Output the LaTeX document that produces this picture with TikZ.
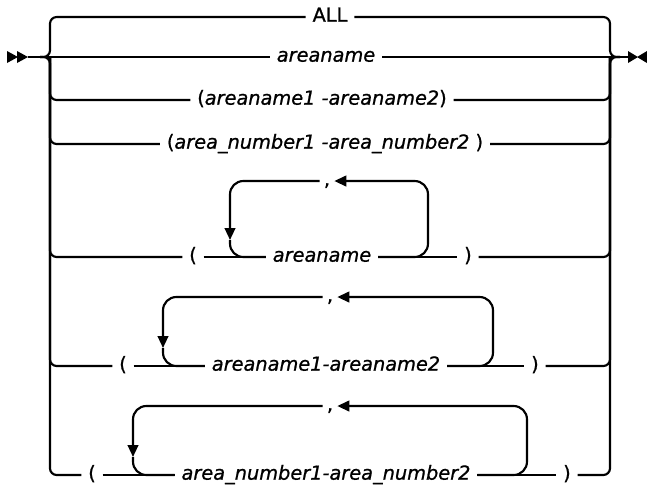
\documentclass[tikz,border=0pt]{standalone}
\usepackage{fontspec}
\setmainfont{DejaVu Sans}
\usetikzlibrary{arrows.meta}
\tikzset{
  rail/.style={line width=1.6pt,rounded corners=5pt},
  loopback/.style={rail,rounded corners=10pt,-{Triangle[length=9pt,width=8pt]}},
  kw/.style={font=\fontsize{14.5}{17}\selectfont\addfontfeature{FakeBold=0.9},
    inner xsep=5pt,inner ysep=0pt,text height=.95em,text depth=.25em},
  var/.style={kw,font=\fontsize{14.5}{17}\selectfont\itshape\addfontfeature{FakeBold=0.9}},
  sep/.style={kw,inner xsep=3pt},
}
\begin{document}
\begin{tikzpicture}[x=.75pt,y=-.75pt]
  \useasboundingbox (0,0) rectangle (647,487);
  % rails and junctions
  \coordinate (start) at (28,57);
  \coordinate (lj) at (40,57);
  \coordinate (rj) at (620,57);
  \coordinate (stop) at (628,57);
  \coordinate (lrail) at (50,0);
  \coordinate (rrail) at (610,0);
  \fill (7,51) -- (18,57) -- (7,63) -- cycle (17,51) -- (28,57) -- (17,63) -- cycle;
  \fill (628,51) -- (638,57) -- (628,63) -- cycle (647,51) -- (637,57) -- (647,63) -- cycle;
  % choices
  \node[kw] (all) at (330,17) {ALL};
  \node[var] (an2) at (326,57) {areaname};
  \node[kw] (an3) at (322,100) {(\textit{areaname1 -areaname2})};
  \node[kw] (an4) at (325,144) {(\textit{area\_number1 -area\_number2} )};
  \node[kw] (lp5) at (193,257) {(};
  \node[var] (an5) at (322,257) {areaname};
  \node[kw] (rp5) at (468,257) {)};
  \node[sep] (c5) at (327,181) {,};
  \node[kw] (lp6) at (123,366) {(};
  \node[var] (an6) at (326,366) {areaname1-areaname2};
  \node[kw] (rp6) at (535,366) {)};
  \node[sep] (c6) at (330,297) {,};
  \node[kw] (lp7) at (92,475) {(};
  \node[var] (an7) at (326,475) {area\_number1-area\_number2};
  \node[kw] (rp7) at (567,475) {)};
  \node[sep] (c7) at (330,406) {,};
  % main line
  \draw[rail] (start) -- (an2.west);
  \draw[rail] (an2.east) -- (stop);
  \draw[rail] (lj) -| (lrail |- all) -- (all.west);
  \draw[rail] (all.east) -| (rrail |- rj) -- (rj);
  \draw[rail] (lj) -| (lrail |- lp7) -- (lp7.west);
  \draw[rail] (rp7.east) -| (rrail |- rj) -- (rj);
  \foreach \n in {an3,an4,lp5,lp6} {
    \draw[rail] (lrail |- lj) |- (\n.west);
  }
  \foreach \n in {an3,an4,rp5,rp6} {
    \draw[rail] (\n.east) -| (rrail |- rj);
  }
  % repeat loops
  \foreach \r/\a/\b/\t in {5/230/428/240,6/163/493/348,7/133/527/457} {
    \coordinate (l\r) at (\a,\t);
    \coordinate (r\r) at (\b,0);
    \draw[rail] (lp\r.east) -- (an\r.west);
    \draw[rail] (an\r.east) -- (rp\r.west);
    \draw[loopback] (an\r.east) -| (r\r |- c\r) -- (c\r.east);
    \draw[loopback] (c\r.west) -| (l\r);
    \draw[rail,rounded corners=10pt] (l\r) |- (an\r.west);
  }
\end{tikzpicture}
\end{document}
